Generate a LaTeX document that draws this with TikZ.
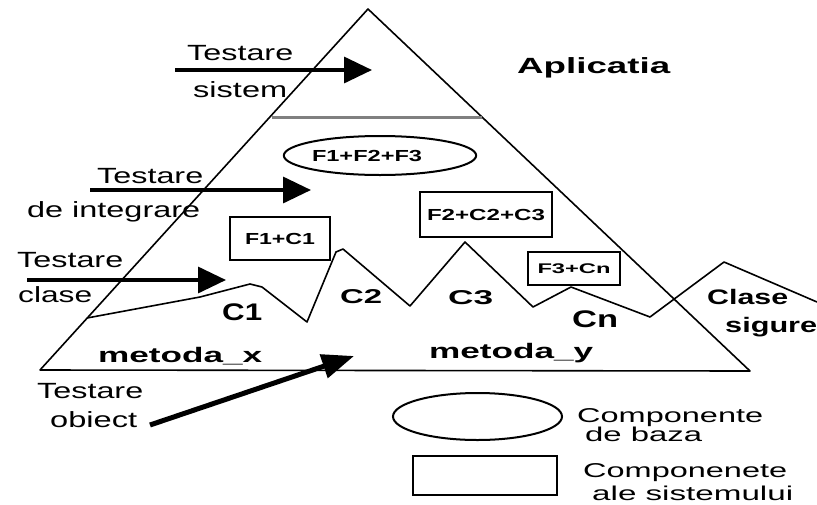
\documentclass[tikz,border=0pt]{standalone}
\usepackage{fontspec}
\setmainfont{Liberation Sans}
\usetikzlibrary{arrows.meta,shapes.geometric}
\newcommand\tw[2]{\resizebox{#1pt}{\height}{#2}}
\begin{document}
\begin{tikzpicture}[x=1pt,y=-1pt,
  lbl/.style={inner sep=0pt, anchor=base west, font=\fontsize{22}{22}\selectfont},
  blbl/.style={inner sep=0pt, anchor=base west, font=\fontsize{21}{21}\selectfont\bfseries},
  leglbl/.style={inner sep=0pt, anchor=base west, font=\fontsize{20}{20}\selectfont},
  edge/.style={line width=1.6pt, line join=round},
  testarrow/.style={line width=3.4pt, -{Triangle[length=28pt,width=26pt]}},
  compbox/.style={draw, line width=2pt, rectangle, inner sep=0pt, font=\fontsize{16}{16}\selectfont\bfseries},
  compell/.style={draw, line width=2pt, ellipse, inner sep=0pt, font=\fontsize{16}{16}\selectfont\bfseries}
]
\useasboundingbox (0,0) rectangle (817,504);
% pyramid
\coordinate (L) at (40,370);
\coordinate (A) at (368,9);
\coordinate (R) at (750,371);
\draw[edge] (L) -- (A) -- (R) -- cycle;
% separation line
\coordinate (g1) at (272,117);
\coordinate (g2) at (482,117);
\draw[gray, line width=3pt] (g1) -- (g2);
% class mountains
\coordinate (z0) at (87,318);
\draw[edge] (z0) -- (200,297) -- (250,284) -- (262,287) -- (307,322) -- (336,252) -- (343,249)
  -- (410,306) -- (465,242) -- (533,307) -- (571,287) -- (650,317) -- (724,262) -- (817,302);
% components
\node[compell, minimum width=190pt, minimum height=39pt] (e1) at (380,155.5) {\tw{110}{F1+F2+F3}\hspace*{26pt}};
\node[compbox, minimum width=100pt, minimum height=43pt] (b1) at (280,238.5) {\tw{70}{F1+C1}};
\node[compbox, minimum width=132pt, minimum height=45pt] (b2) at (486,214.5) {\tw{118}{F2+C2+C3}};
\node[compbox, minimum width=92pt, minimum height=33pt, font=\fontsize{14}{14}\selectfont\bfseries] (b3) at (574,268.5) {\tw{73}{F3+Cn}};
% labels
\node[lbl] (ts1) at (187,60) {\tw{106}{Testare}};
\node[lbl] (ts2) at (193,97) {\tw{94}{sistem}};
\node[blbl, font=\fontsize{22}{22}\selectfont\bfseries] (apl) at (517,73) {\tw{153}{Aplicatia}};
\node[lbl] (ti1) at (97,183) {\tw{106}{Testare}};
\node[lbl] (ti2) at (27,217) {\tw{173}{de integrare}};
\node[lbl] (tc1) at (17,267) {\tw{106}{Testare}};
\node[lbl] (tc2) at (18,302) {\tw{74}{clase}};
\node[blbl, font=\fontsize{24}{24}\selectfont\bfseries] (c1) at (222,320) {\tw{40}{C1}};
\node[blbl, font=\fontsize{20}{20}\selectfont\bfseries] (c2) at (340,303) {\tw{42}{C2}};
\node[blbl, font=\fontsize{20}{20}\selectfont\bfseries] (c3) at (448,304) {\tw{45}{C3}};
\node[blbl, font=\fontsize{24}{24}\selectfont\bfseries] (cn) at (572,327) {\tw{46}{Cn}};
\node[blbl] (cs1) at (707,304) {\tw{81}{Clase}};
\node[blbl] (cs2) at (725,332) {\tw{92}{sigure}};
\node[blbl] (mx) at (98,362) {\tw{164}{metoda\_x}};
\node[blbl] (my) at (429,358) {\tw{164}{metoda\_y}};
\node[lbl] (to1) at (37,398) {\tw{106}{Testare}};
\node[lbl] (to2) at (50,427) {\tw{87}{obiect}};
% arrows
\coordinate (as1) at (175,70);   \coordinate (as2) at (372,70);
\coordinate (ai1) at (90,190);   \coordinate (ai2) at (311,190);
\coordinate (ac1) at (27,280);   \coordinate (ac2) at (226,280);
\coordinate (ao1) at (150,425);  \coordinate (ao2) at (354,356);
\draw[testarrow] (as1) -- (as2);
\draw[testarrow] (ai1) -- (ai2);
\draw[testarrow] (ac1) -- (ac2);
\draw[line width=5pt, -{Triangle[length=32pt,width=24pt]}] (ao1) -- (ao2);
% legend
\node[compell, minimum width=169pt, minimum height=47pt] (le) at (477.5,416.5) {};
\node[compbox, minimum width=144pt, minimum height=39pt] (lr) at (485,475.5) {};
\node[leglbl] (l1) at (577,422) {\tw{186}{Componente}};
\node[leglbl] (l2) at (585,441) {\tw{117}{de baza}};
\node[leglbl] (l3) at (583,477) {\tw{204}{Componenete}};
\node[leglbl] (l4) at (592,500) {\tw{201}{ale sistemului}};
\end{tikzpicture}
\end{document}
